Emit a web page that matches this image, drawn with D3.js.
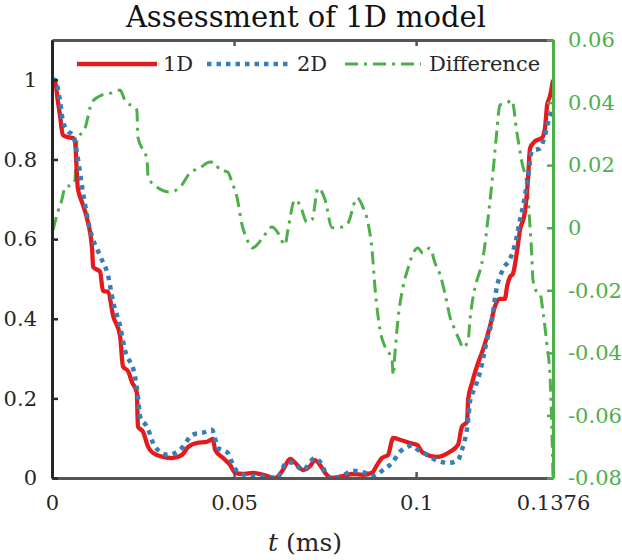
<!DOCTYPE html>
<html><head><meta charset="utf-8">
<script src="https://cdn.jsdelivr.net/npm/d3@7"></script>
<style>html,body{margin:0;padding:0;background:#fff;}svg{display:block;}</style>
</head><body>
<svg id="chart" width="622" height="560"></svg>
<script>
// ---- data (t in ms) ----
const t1D = [0,0.0008,0.0016,0.0022,0.0030,0.0044,0.0058,0.0063,0.0071,0.0082,0.0096,0.0110,0.0113,0.0132,0.0140,0.0154,0.0168,0.0187,0.0195,0.0209,0.0220,0.0233,0.0236,0.0250,0.0264,0.0277,0.0305,0.0330,0.0357,0.0374,0.0398,0.0426,0.0442,0.0448,0.0470,0.0489,0.0503,0.0525,0.0552,0.0580,0.0613,0.0634,0.0654,0.0673,0.0689,0.0709,0.0722,0.0736,0.0750,0.0769,0.0799,0.0827,0.0854,0.0879,0.0893,0.0906,0.0923,0.0937,0.0956,0.0983,0.1003,0.1019,0.1057,0.1093,0.1115,0.1126,0.1140,0.1143,0.1154,0.1167,0.1184,0.1203,0.1217,0.1230,0.1244,0.1250,0.1258,0.1266,0.1277,0.1285,0.1299,0.1307,0.1313,0.1327,0.1346,0.1354,0.1360,0.1368,0.1376];
const v1D = [1.0,0.997,0.947,0.91,0.861,0.856,0.854,0.846,0.727,0.694,0.652,0.576,0.53,0.518,0.47,0.467,0.407,0.356,0.280,0.268,0.240,0.215,0.129,0.116,0.078,0.063,0.053,0.050,0.058,0.078,0.088,0.091,0.098,0.071,0.050,0.033,0.013,0.010,0.013,0.008,0.0,0.020,0.048,0.033,0.020,0.030,0.045,0.033,0.013,0.0,0.005,0.010,0.008,0.013,0.033,0.050,0.058,0.101,0.096,0.088,0.083,0.063,0.053,0.066,0.083,0.129,0.141,0.197,0.240,0.280,0.323,0.381,0.432,0.450,0.450,0.482,0.505,0.513,0.568,0.621,0.669,0.745,0.828,0.846,0.854,0.879,0.937,0.960,1.0];

const t2D = [0,0.0008,0.0022,0.0030,0.0044,0.0058,0.0071,0.0082,0.0104,0.0132,0.0154,0.0168,0.0187,0.0200,0.0228,0.0236,0.0242,0.0261,0.0283,0.0319,0.0352,0.0387,0.0415,0.0439,0.0456,0.0483,0.0497,0.0511,0.0544,0.0590,0.0618,0.0645,0.0662,0.0689,0.0722,0.0742,0.0758,0.0791,0.0827,0.0860,0.0882,0.0909,0.0934,0.0956,0.0989,0.1005,0.1016,0.1038,0.1060,0.1090,0.1115,0.1126,0.1134,0.1143,0.1148,0.1162,0.1176,0.1195,0.1209,0.1217,0.1239,0.1258,0.1272,0.1285,0.1294,0.1307,0.1318,0.1340,0.1354,0.1368,0.1376];
const v2D = [1.0,1.0,0.947,0.896,0.871,0.861,0.803,0.735,0.626,0.558,0.508,0.442,0.381,0.323,0.255,0.205,0.154,0.129,0.078,0.058,0.071,0.109,0.114,0.121,0.076,0.063,0.033,0.015,0.005,0.003,0.0,0.040,0.038,0.020,0.050,0.033,0.0,0.003,0.018,0.013,0.005,0.020,0.038,0.066,0.081,0.071,0.066,0.053,0.043,0.038,0.045,0.071,0.096,0.146,0.192,0.227,0.268,0.348,0.399,0.455,0.525,0.550,0.588,0.646,0.684,0.753,0.821,0.828,0.861,0.912,0.929];

const tDiff = [0.0003,0.0016,0.0027,0.0036,0.0055,0.0063,0.0069,0.0091,0.0110,0.0137,0.0165,0.0187,0.0200,0.0233,0.0236,0.0261,0.0264,0.0288,0.0324,0.0352,0.0379,0.0406,0.0434,0.0448,0.0461,0.0483,0.0494,0.0508,0.0522,0.0536,0.0549,0.0563,0.0580,0.0604,0.0621,0.0640,0.0648,0.0667,0.0681,0.0700,0.0714,0.0731,0.0750,0.0769,0.0797,0.0813,0.0838,0.0854,0.0868,0.0879,0.0887,0.0901,0.0915,0.0934,0.0937,0.0942,0.0950,0.0964,0.0978,0.0992,0.1005,0.1019,0.1038,0.1052,0.1066,0.1079,0.1093,0.1107,0.1121,0.1129,0.1143,0.1148,0.1162,0.1176,0.1184,0.1198,0.1211,0.1222,0.1230,0.1250,0.1263,0.1277,0.1291,0.1305,0.1313,0.1318,0.1321,0.1332,0.1340,0.1349,0.1360,0.1368,0.1373,0.1376];
const vDiff = [-0.0007,0.005,0.0089,0.013,0.0137,0.0153,0.028,0.0319,0.0402,0.0424,0.0431,0.044,0.0408,0.0376,0.029,0.0216,0.0162,0.013,0.0114,0.013,0.0175,0.0191,0.021,0.0207,0.0184,0.0178,0.0146,0.0098,0.0009,-0.0039,-0.0065,-0.0055,-0.003,0.0002,-0.0017,-0.0055,-0.0007,0.0089,0.0073,0.0018,0.0025,0.0127,0.0089,0.0,0.0002,0.0015,0.0095,0.0066,0.0015,-0.0071,-0.019,-0.0327,-0.0381,-0.0423,-0.0471,-0.040,-0.0295,-0.019,-0.0129,-0.0081,-0.0065,-0.0081,-0.0065,-0.0113,-0.0151,-0.0209,-0.0285,-0.0327,-0.0365,-0.0384,-0.0359,-0.0295,-0.019,-0.0135,-0.0094,0.0034,0.0175,0.0312,0.0392,0.0399,0.0408,0.0303,0.0207,0.013,0.0002,-0.0094,-0.0167,-0.0205,-0.0209,-0.0273,-0.0381,-0.0477,-0.0647,-0.08];

const xTicks = [0, 0.05, 0.1, 0.1376];
const xTickLabels = ["0", "0.05", "0.1", "0.1376"];
const yLeftTicks = [0, 0.2, 0.4, 0.6, 0.8, 1];
const yLeftLabels = ["0", "0.2", "0.4", "0.6", "0.8", "1"];
const yRightTicks = [-0.08, -0.06, -0.04, -0.02, 0, 0.02, 0.04, 0.06];
const yRightLabels = ["-0.08", "-0.06", "-0.04", "-0.02", "0", "0.02", "0.04", "0.06"];
const seriesNames = ["1D", "2D", "Difference"];
const titleText = "Assessment of 1D model";

// ---- layout ----
const L = 52, R = 553, T = 40, B = 478;
const FONT = "'DejaVu Serif', 'Liberation Serif', serif";
const RED = "#e41a1c", BLUE = "#377eb8", GREEN = "#4daf4a", AX = "#262626", GR = "#555555";

const svg = d3.select("#chart").style("font-family", FONT);
const x = d3.scaleLinear().domain([0, 0.1376]).range([L, R]);
const yL = d3.scaleLinear().domain([0, 1.1]).range([B, T]);
const yR = d3.scaleLinear().domain([-0.08, 0.06]).range([B, T]);

// clip
svg.append("defs").append("clipPath").attr("id", "clip")
  .append("rect").attr("x", L).attr("y", T - 2).attr("width", R - L).attr("height", B - T + 4);

const g = svg.append("g").attr("clip-path", "url(#clip)");
const zip = (a, b) => a.map((d, i) => [d, b[i]]);

const lineL = d3.line().x(d => x(d[0])).y(d => yL(d[1])).curve(d3.curveMonotoneX);
const lineR = d3.line().x(d => x(d[0])).y(d => yR(d[1])).curve(d3.curveMonotoneX);

g.append("path").datum(zip(tDiff, vDiff)).attr("d", lineR)
  .attr("fill", "none").attr("stroke", GREEN).attr("stroke-width", 3)
  .attr("stroke-dasharray", "13,6,3,6");
g.append("path").datum(zip(t1D, v1D)).attr("d", lineL)
  .attr("fill", "none").attr("stroke", RED).attr("stroke-width", 4.3).attr("stroke-linejoin", "round");
g.append("path").datum(zip(t2D, v2D)).attr("d", lineL)
  .attr("fill", "none").attr("stroke", BLUE).attr("stroke-width", 4.5)
  .attr("stroke-dasharray", "4.5,5");

// ---- axes ----
const axB = svg.append("g").attr("transform", `translate(0,${B})`)
  .call(d3.axisBottom(x).tickValues(xTicks).tickFormat((d, i) => xTickLabels[i]).tickSizeInner(-6).tickSizeOuter(0).tickPadding(17));
axB.select(".domain").attr("stroke", GR).attr("stroke-width", 3);
axB.selectAll(".tick line").attr("stroke", GR).attr("stroke-width", 2.5);
axB.selectAll(".tick text").attr("fill", AX).attr("font-size", 21).attr("font-family", FONT);

const axT = svg.append("g").attr("transform", `translate(0,${T})`)
  .call(d3.axisTop(x).tickValues(xTicks).tickFormat("").tickSizeInner(-6).tickSizeOuter(0));
axT.select(".domain").attr("stroke", GR).attr("stroke-width", 3);
axT.selectAll(".tick line").attr("stroke", GR).attr("stroke-width", 2.5);

const axL = svg.append("g").attr("transform", `translate(${L},0)`)
  .call(d3.axisLeft(yL).tickValues(yLeftTicks).tickFormat((d, i) => yLeftLabels[i]).tickSizeInner(-6).tickSizeOuter(0).tickPadding(15));
axL.select(".domain").attr("stroke", AX).attr("stroke-width", 3);
axL.selectAll(".tick line").attr("stroke", AX).attr("stroke-width", 2.5);
axL.selectAll(".tick text").attr("fill", AX).attr("font-size", 21).attr("font-family", FONT);

const axR = svg.append("g").attr("transform", `translate(${R},0)`)
  .call(d3.axisRight(yR).tickValues(yRightTicks).tickFormat((d, i) => yRightLabels[i]).tickSizeInner(-6).tickSizeOuter(0).tickPadding(15));
axR.select(".domain").attr("stroke", GREEN).attr("stroke-width", 3);
axR.selectAll(".tick line").attr("stroke", GREEN).attr("stroke-width", 2.5);
axR.selectAll(".tick text").attr("fill", GREEN).attr("font-size", 21).attr("font-family", FONT);

// ---- title & label ----
svg.append("text").attr("x", 306).attr("y", 27).attr("text-anchor", "middle")
  .attr("font-size", 29).attr("fill", "#111").text(titleText);

const xl = svg.append("text").attr("x", 305).attr("y", 551).attr("text-anchor", "middle")
  .attr("font-size", 25).attr("fill", AX);
xl.append("tspan").attr("font-style", "italic").text("t");
xl.append("tspan").text(" (ms)");

// ---- legend ----
const leg = [
  {name: seriesNames[0], x0: 77, x1: 157, tx: 163, color: RED, w: 4.3, dash: null},
  {name: seriesNames[1], x0: 207, x1: 291, tx: 297, color: BLUE, w: 4.5, dash: "4.5,5"},
  {name: seriesNames[2], x0: 345, x1: 421, tx: 429, color: GREEN, w: 3, dash: "13,6,3,6"}
];
const lg = svg.append("g");
leg.forEach(e => {
  lg.append("line").attr("x1", e.x0).attr("x2", e.x1).attr("y1", 64).attr("y2", 64)
    .attr("stroke", e.color).attr("stroke-width", e.w).attr("stroke-dasharray", e.dash);
  lg.append("text").attr("x", e.tx).attr("y", 71).attr("font-size", 21).attr("fill", AX).text(e.name);
});
</script>
</body></html>
